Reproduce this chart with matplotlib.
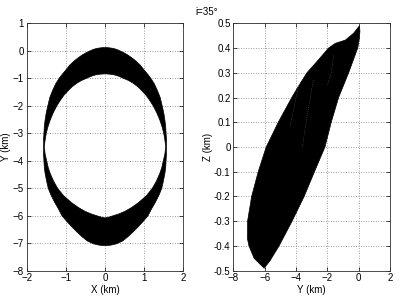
import numpy as np
import matplotlib
matplotlib.use("Agg")
import matplotlib.pyplot as plt
from matplotlib.path import Path
from matplotlib.patches import PathPatch

# ---- data ----
# Left panel: left half of the band boundaries (X, Y in km), top to bottom
outer_half_x = [0.0, -0.10, -0.20, -0.30, -0.38, -0.48, -0.58, -0.68, -0.78, -0.90,
                -1.00, -1.09, -1.17, -1.26, -1.34, -1.41, -1.46, -1.50, -1.53, -1.55,
                -1.56, -1.57, -1.57, -1.57, -1.56, -1.55, -1.53, -1.49, -1.45, -1.38,
                -1.28, -1.19, -1.10, -0.98, -0.85, -0.71, -0.59, -0.45, -0.30, -0.15, 0.0]
outer_half_y = [0.12, 0.11, 0.09, 0.05, 0.0, -0.07, -0.15, -0.25, -0.36, -0.52,
                -0.70, -0.85, -1.0, -1.2, -1.45, -1.7, -2.0, -2.25, -2.52, -2.75,
                -3.0, -3.25, -3.49, -3.75, -4.0, -4.25, -4.46, -4.75, -5.0, -5.25,
                -5.53, -5.75, -6.0, -6.2, -6.4, -6.6, -6.76, -6.92, -7.02, -7.07, -7.09]
inner_half_x = [0.0, -0.12, -0.25, -0.36, -0.47, -0.60, -0.72, -0.84, -0.94, -1.05,
                -1.14, -1.23, -1.32, -1.40, -1.46, -1.50, -1.53, -1.55, -1.53, -1.49,
                -1.45, -1.40, -1.31, -1.21, -1.06, -0.85, -0.68, -0.51, -0.36, -0.21,
                -0.10, 0.0]
inner_half_y = [-0.84, -0.85, -0.88, -0.93, -1.0, -1.08, -1.18, -1.31, -1.45, -1.62,
                -1.8, -2.0, -2.25, -2.52, -2.78, -3.0, -3.25, -3.49, -3.75, -4.0,
                -4.25, -4.46, -4.75, -5.0, -5.27, -5.53, -5.7, -5.84, -5.93, -6.0,
                -6.05, -6.08]

# Right panel: outline of the filled region (Y, Z in km), clockwise from top tip
yz_outline_y = [0.05, -0.32, -0.85, -1.49, -1.92, -2.6, -3.3, -3.8, -4.27, -5.13,
                -5.9, -6.41, -6.83, -7.09, -7.1, -7.0, -6.67, -6.03,
                -5.66, -5.08, -4.25, -3.48, -2.82, -2.15, -1.75, -1.28, -0.64,
                -0.06, 0.05, 0.08]
yz_outline_z = [0.49, 0.46, 0.432, 0.419, 0.40, 0.35, 0.30, 0.25, 0.20, 0.10,
                0.0, -0.10, -0.20, -0.30, -0.37, -0.40, -0.45, -0.49,
                -0.46, -0.40, -0.30, -0.20, -0.10, 0.0, 0.10, 0.20, 0.30,
                0.40, 0.44, 0.47]

# thin gaps visible inside the right-panel fill
gap1_y = [-3.74, -4.1, -4.38]
gap1_z = [0.27, 0.17, 0.08]
gap2_y = [-2.9, -3.3, -3.6]
gap2_z = [0.27, 0.12, 0.0]
gap3_y = [-1.6, -1.75, -2.0]
gap3_z = [0.37, 0.30, 0.25]

left_xticks = [-2, -1, 0, 1, 2]
left_yticks = [-8, -7, -6, -5, -4, -3, -2, -1, 0, 1]
right_xticks = [-8, -6, -4, -2, 0, 2]
right_yticks = [-0.5, -0.4, -0.3, -0.2, -0.1, 0, 0.1, 0.2, 0.3, 0.4, 0.5]

title_text = "i=35°"

# ---- drawing ----
plt.rcParams['font.family'] = ['Liberation Sans', 'DejaVu Sans']
plt.rcParams['font.size'] = 7

fig = plt.figure(figsize=(4.0, 3.05), dpi=100)
W, H = 400, 305
ax1 = fig.add_axes([26.7 / W, (H - 270.7) / H, 156.6 / W, 247.4 / H])
ax2 = fig.add_axes([233.3 / W, (H - 270.7) / H, 156.7 / W, 247.4 / H])


def style(ax):
    ax.grid(True, linestyle=(0, (1, 2)), color='#7f7f7f', linewidth=0.6)
    ax.set_axisbelow(True)
    ax.tick_params(direction='in', top=True, right=True, length=3, width=0.5,
                   pad=2, labelsize=7)
    for s in ax.spines.values():
        s.set_linewidth(0.6)
        s.set_color('#303030')


# left panel band
ox = np.array(outer_half_x)
oy = np.array(outer_half_y)
ix = np.array(inner_half_x)
iy = np.array(inner_half_y)
outer_loop = np.column_stack([np.concatenate([ox, -ox[::-1][1:]]),
                              np.concatenate([oy, oy[::-1][1:]])])
inner_loop = np.column_stack([np.concatenate([ix, -ix[::-1][1:]]),
                              np.concatenate([iy, iy[::-1][1:]])])[::-1]
verts = np.concatenate([outer_loop, outer_loop[:1], inner_loop, inner_loop[:1]])
codes = ([Path.MOVETO] + [Path.LINETO] * (len(outer_loop) - 1) + [Path.CLOSEPOLY] +
         [Path.MOVETO] + [Path.LINETO] * (len(inner_loop) - 1) + [Path.CLOSEPOLY])
ax1.add_patch(PathPatch(Path(verts, codes), facecolor='black', edgecolor='black',
                        linewidth=0.5))
ax1.set_xlim(-2, 2)
ax1.set_ylim(-8, 1)
ax1.set_xticks(left_xticks)
ax1.set_yticks(left_yticks)
ax1.set_xlabel("X (km)", labelpad=1)
ax1.set_ylabel("Y (km)", labelpad=1)
style(ax1)

# right panel
ax2.fill(yz_outline_y, yz_outline_z, color='black', linewidth=0.5)
for gy, gz in [(gap1_y, gap1_z), (gap2_y, gap2_z), (gap3_y, gap3_z)]:
    ax2.plot(gy, gz, color='white', linewidth=0.3, linestyle=(0, (2, 3)), alpha=0.5)
ax2.set_xlim(-8, 2)
ax2.set_ylim(-0.5, 0.5)
ax2.set_xticks(right_xticks)
ax2.set_yticks(right_yticks)
ax2.set_yticklabels([f"{v:g}" for v in right_yticks])
ax2.set_xlabel("Y (km)", labelpad=1)
ax2.set_ylabel("Z (km)", labelpad=1)
style(ax2)

fig.text(207 / W, 1 - 12 / H, title_text, ha='center', va='center', fontsize=7)

fig.savefig("out.png", dpi=100)
